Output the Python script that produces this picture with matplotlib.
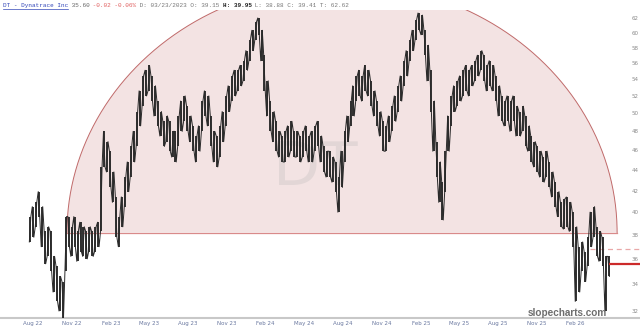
import numpy as np
import pandas as pd
import matplotlib
matplotlib.use("Agg")
import matplotlib.pyplot as plt
import matplotlib.dates as mdates
from matplotlib.ticker import FixedLocator, FixedFormatter, NullLocator

# ---------------- data (weekly high / low) ----------------
week_start = "2022-07-25"
highs = [
    39.6, 40.5, 40.9, 41.9, 40.5, 38.3, 38.7, 38.3, 36.2, 35.4, 34.6, 34.2,
    39.6, 39.6, 38.7, 39.6, 38.3, 39.1, 38.7, 38.3, 38.7, 38.3, 38.7, 39.1,
    44.3, 48.0, 46.9, 45.9, 43.8, 41.4, 39.6, 41.4, 43.3, 44.8, 46.4, 48.0,
    50.2, 52.6, 54.4, 55.1, 55.7, 54.4, 53.2, 51.4, 50.2, 49.1, 49.7, 49.1,
    48.0, 48.0, 49.7, 51.4, 52.0, 50.8, 49.7, 48.6, 47.5, 48.6, 51.4, 52.6,
    52.0, 49.7, 48.0, 47.5, 48.6, 50.2, 52.0, 53.2, 54.4, 55.1, 55.1, 55.7,
    56.3, 57.6, 59.0, 60.3, 61.4, 62.0, 60.3, 57.0, 53.8, 51.4, 50.2, 49.1,
    48.0, 47.5, 48.0, 48.6, 49.1, 48.0, 48.0, 47.5, 48.0, 48.6, 47.5, 48.0,
    48.6, 49.1, 47.5, 46.4, 45.9, 45.9, 45.3, 44.8, 43.3, 45.9, 48.0, 49.7,
    51.4, 53.2, 54.4, 55.1, 54.4, 55.7, 55.1, 53.8, 52.6, 51.4, 50.2, 49.1,
    48.6, 49.7, 50.8, 52.0, 53.2, 54.4, 56.3, 57.6, 59.0, 60.3, 61.7, 62.7,
    62.4, 60.3, 58.3, 55.1, 51.4, 46.9, 44.8, 42.8, 45.9, 49.7, 52.0, 53.2,
    53.8, 54.4, 55.1, 55.7, 55.1, 55.7, 56.3, 57.0, 57.6, 57.0, 55.7, 56.3,
    55.7, 54.4, 53.2, 52.0, 51.4, 52.0, 51.4, 52.0, 50.8, 50.2, 50.8, 49.7,
    48.6, 47.5, 46.9, 46.4, 45.9, 45.3, 45.9, 44.8, 43.8, 42.8, 41.9, 40.9,
    41.2, 41.4, 40.9, 40.0, 38.7, 37.0, 37.4, 36.6, 37.8, 40.0, 40.5, 38.7,
    38.3, 37.8, 36.2, 36.2,
]
lows = [
    37.4, 37.8, 38.7, 39.6, 37.0, 35.6, 36.2, 35.0, 33.4, 32.7, 32.0, 31.5,
    35.0, 37.0, 36.2, 37.0, 35.8, 36.6, 36.2, 36.0, 36.6, 36.2, 36.6, 37.0,
    38.3, 44.3, 43.8, 42.3, 40.9, 37.8, 37.0, 38.7, 40.5, 41.9, 43.3, 44.8,
    46.4, 48.6, 50.8, 52.0, 52.6, 51.4, 49.7, 48.6, 47.5, 46.4, 46.9, 45.9,
    45.3, 44.8, 46.4, 48.0, 49.1, 48.0, 46.9, 45.9, 44.8, 45.9, 48.0, 49.7,
    48.6, 46.4, 44.8, 44.3, 45.3, 46.9, 48.6, 50.2, 51.4, 52.0, 52.6, 53.2,
    53.8, 55.1, 56.3, 57.6, 59.0, 59.7, 56.3, 52.6, 49.7, 48.0, 46.9, 45.9,
    45.3, 44.8, 44.8, 45.3, 45.9, 45.3, 45.3, 44.8, 45.3, 45.9, 44.8, 44.8,
    45.9, 46.4, 44.8, 43.8, 43.3, 43.3, 42.8, 41.9, 40.0, 42.3, 44.8, 46.9,
    48.6, 49.7, 51.4, 52.0, 51.4, 52.6, 52.0, 50.8, 49.7, 48.6, 47.5, 45.9,
    45.9, 46.9, 48.0, 49.1, 50.2, 51.4, 53.2, 54.4, 56.3, 57.6, 59.0, 60.3,
    59.7, 57.0, 53.8, 50.2, 45.9, 43.3, 40.9, 39.3, 41.9, 45.9, 48.6, 50.2,
    50.8, 51.4, 52.0, 52.6, 52.0, 53.2, 53.8, 54.4, 55.1, 53.8, 52.6, 53.2,
    52.6, 51.4, 49.7, 49.1, 48.6, 49.1, 48.0, 49.1, 47.5, 47.5, 48.0, 46.4,
    45.9, 44.8, 44.3, 43.8, 43.3, 42.8, 43.3, 42.3, 41.4, 40.5, 39.6, 38.7,
    38.5, 38.7, 38.3, 37.0, 32.7, 33.4, 35.0, 34.2, 35.4, 37.0, 37.8, 36.2,
    35.8, 35.4, 32.0, 34.6,
]
last_close = 35.60
prior_level = 36.8

arc_left = "2022-10-20"
arc_right = "2026-05-10"
arc_base = 38.2
arc_top = 67.1

tick_dates = ["2022-08-01", "2022-11-01", "2023-02-01", "2023-05-01", "2023-08-01",
              "2023-11-01", "2024-02-01", "2024-05-01", "2024-08-01", "2024-11-01",
              "2025-02-01", "2025-05-01", "2025-08-01", "2025-11-01", "2026-02-01"]
tick_labels = ["Aug 22", "Nov 22", "Feb 23", "May 23", "Aug 23", "Nov 23", "Feb 24",
               "May 24", "Aug 24", "Nov 24", "Feb 25", "May 25", "Aug 25", "Nov 25", "Feb 26"]
y_ticks = [32, 34, 36, 38, 40, 42, 44, 46, 48, 50, 52, 54, 56, 58, 60, 62]

# ---------------- figure ----------------
W, H = 640, 335
fig = plt.figure(figsize=(W / 100, H / 100), dpi=100)
fig.patch.set_facecolor("white")
ax = fig.add_axes([0, 17 / H, 1, 308 / H])
ax.set_facecolor("white")
ax.set_yscale("log")
ax.set_ylim(31.5, 63.13)

dates = pd.date_range(week_start, periods=len(highs), freq="7D")
xd = mdates.date2num(dates.to_pydatetime())
x_left = mdates.date2num(pd.Timestamp("2022-05-15"))
x_right = mdates.date2num(pd.Timestamp("2026-07-03"))
ax.set_xlim(x_left, x_right)

# semicircle (ellipse in date / log-price space)
t = np.linspace(0, np.pi, 400)
xl = mdates.date2num(pd.Timestamp(arc_left))
xr = mdates.date2num(pd.Timestamp(arc_right))
cx, ra = (xl + xr) / 2, (xr - xl) / 2
lb, lt = np.log(arc_base), np.log(arc_top)
ax_arc = cx - ra * np.cos(t)
ay_arc = np.exp(lb + (lt - lb) * np.sin(t))
ax.fill(np.r_[ax_arc, ax_arc[0]], np.r_[ay_arc, ay_arc[0]],
        facecolor="#f3e3e3", edgecolor="none", zorder=1)
ax.plot(ax_arc, ay_arc, color="#c06a6a", lw=0.7, zorder=2)
ax.plot([xl, xr], [arc_base, arc_base], color="#d98a8a", lw=0.9, zorder=2)

# watermark
ax.text(0.492, 0.487, "DT", transform=ax.transAxes, ha="center", va="center",
        fontsize=44, color="#e2d6d6", zorder=2, family="DejaVu Sans")

# price bars: range bars plus a jagged trace through each week's range
ax.vlines(xd, lows, highs, color="#303030", lw=1.4, zorder=3)
zx, zy = [], []
for i, (x, lo, hi) in enumerate(zip(xd, lows, highs)):
    zx += [x - 1.8, x + 1.8]
    zy += [lo, hi] if i % 2 == 0 else [hi, lo]
ax.plot(zx, zy, color="#2a2a2a", lw=0.7, zorder=3)

# level lines
x_dash = mdates.date2num(pd.Timestamp("2026-03-07"))
ax.hlines(prior_level, x_dash, x_right, colors="#e9a8a8", lw=0.9,
          linestyles=(0, (4, 3)), zorder=2)
ax.hlines(last_close, xd[-1], x_right, colors="#cc2a2a", lw=1.6, zorder=4)

# axes styling
for s in ["top", "left", "right"]:
    ax.spines[s].set_visible(False)
ax.spines["bottom"].set_color("#c8c8c8")
ax.spines["bottom"].set_linewidth(1.5)

ax.xaxis.set_major_locator(FixedLocator(mdates.date2num(pd.to_datetime(tick_dates).to_pydatetime())))
ax.xaxis.set_major_formatter(FixedFormatter(tick_labels))
ax.xaxis.set_minor_locator(NullLocator())
ax.tick_params(axis="x", length=0, pad=2.5, labelsize=4, labelcolor="#6a78a0")

ax.yaxis.tick_right()
ax.yaxis.set_major_locator(FixedLocator(y_ticks))
ax.yaxis.set_major_formatter(FixedFormatter([str(v) for v in y_ticks]))
ax.yaxis.set_minor_locator(NullLocator())
ax.tick_params(axis="y", length=0, pad=-6, labelsize=4, labelcolor="#8a8a8a")

# header text (monospace, placed by character position)
cw = 3.6  # px per character
fs = 4.3
segments = [
    ("DT - Dynatrace Inc", "#3347b8", "normal"),
    (" 35.60", "#666666", "normal"),
    (" -0.02 -0.06%", "#e06060", "normal"),
    (" D: 03/23/2023 O: 39.15 ", "#777777", "normal"),
    ("H: 39.95", "#222222", "bold"),
    (" L: 38.88 C: 39.41 T: 62.62", "#777777", "normal"),
]
pos = 0
for txt, col, wt in segments:
    fig.text((3 + pos * cw) / W, 1 - 5.5 / H, txt, color=col, fontsize=fs,
             family="Liberation Mono", fontweight=wt, ha="left", va="center")
    pos += len(txt)
fig.add_artist(plt.Line2D([3 / W, (3 + 18 * cw) / W], [1 - 9 / H, 1 - 9 / H],
                          color="#3347b8", lw=0.5))

# site label
fig.text(607 / W, 1 - 316 / H, "slopecharts.com", ha="right", va="baseline",
         fontsize=7.2, color="#6e6e6e", fontweight="bold", family="Liberation Sans")

fig.savefig("out.png", dpi=100, facecolor="white")
